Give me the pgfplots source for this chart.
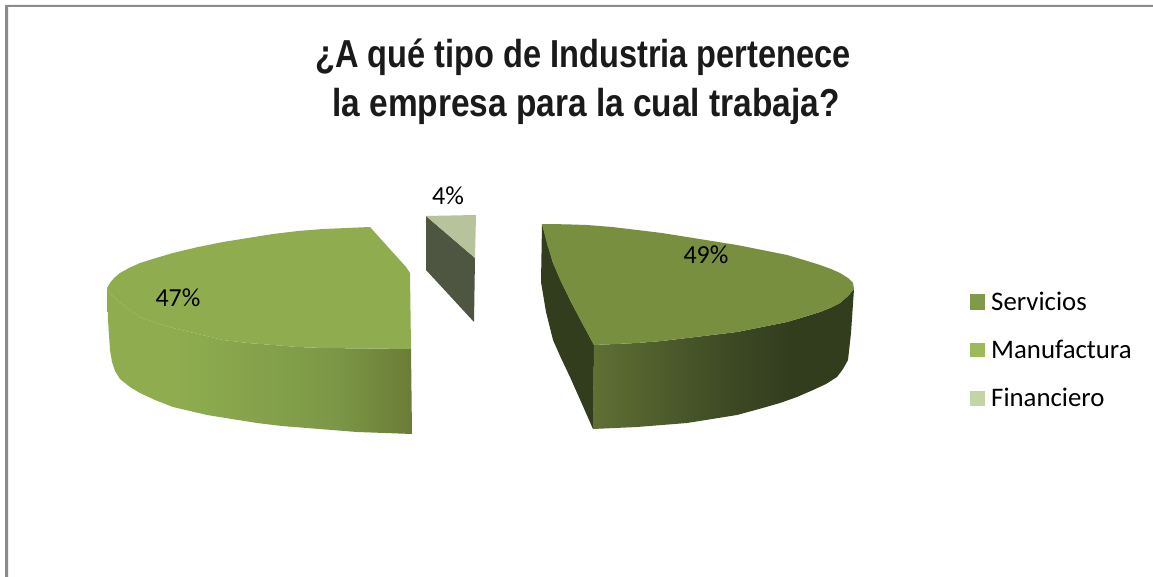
\documentclass[border=0pt]{standalone}
\usepackage{pgfplots}
\pgfplotsset{compat=1.18}
\usepackage{fontspec}
\setmainfont{Carlito}
\newfontfamily\titlef{Liberation Sans}
\definecolor{frame}{HTML}{8B8B8F}
\definecolor{ctitle}{HTML}{1A1A1A}
\definecolor{servtop}{HTML}{778F3F}
\definecolor{servleft}{HTML}{323D1E}
\definecolor{servfront}{HTML}{5F7034}
\definecolor{servmid}{HTML}{3E4B25}
\definecolor{mantop}{HTML}{8FAD4F}
\definecolor{manmid}{HTML}{7C9847}
\definecolor{manend}{HTML}{6A7D35}
\definecolor{fintop}{HTML}{B7C49B}
\definecolor{findark}{HTML}{4E5540}
\definecolor{legs}{HTML}{7F9A48}
\definecolor{legm}{HTML}{9BBB59}
\definecolor{legf}{HTML}{C3D4A5}
\pgfdeclarehorizontalshading{serside}{100bp}{color(0bp)=(servfront); color(25bp)=(servfront); color(50bp)=(servmid); color(63bp)=(servleft); color(100bp)=(servleft)}
\pgfdeclarehorizontalshading{manside}{100bp}{color(0bp)=(mantop); color(36bp)=(mantop); color(62bp)=(manmid); color(75bp)=(manend); color(100bp)=(manend)}
\begin{document}
\begin{tikzpicture}
\begin{axis}[
  scale only axis, width=1153pt, height=577pt,
  xmin=0, xmax=1153, ymin=0, ymax=577, y dir=reverse,
  axis lines=none, clip=false, no markers,
]
% page extent (invisible)
\addplot[draw=none, fill=white] coordinates {(0,0) (1153,0) (1153,577) (0,577)} -- cycle;
% frame
\addplot[draw=none, fill=frame] coordinates {(5,5) (1153,5) (1153,7) (8,7) (8,577) (5,577)} -- cycle;
% Manufactura side
\addplot[draw=none, shading=manside] coordinates {
 (107,288) (108,320) (110,350) (112,362) (115,371) (120,379) (130,387) (140,393) (155,400) (173,407) (190,411) (207,415) (232,419) (257,423) (282,426) (307,428) (332,430) (357,432) (385,433) (412,434)
 (411,349) (367,348.5) (323,348) (298,347) (273,345) (248,343) (223,340) (198,334) (173,328) (156,323) (140,317) (130,310) (120,303) (112,295)} -- cycle;
% Manufactura top
\addplot[draw=none, fill=mantop] coordinates {
 (370,227) (347,228) (323,229) (298,231) (273,234) (248,238) (223,242) (198,247) (173,253) (156,258) (140,263) (129,268) (120,273) (114,278) (110,283) (107,288)
 (112,295) (120,303) (130,310) (140,317) (156,323) (173,328) (198,334) (223,340) (248,343) (273,345) (298,347) (323,348) (367,348.5) (411,349) (410,273) (406,267)} -- cycle;
% Financiero
\addplot[draw=none, fill=findark] coordinates {(426,216) (475,258) (474,322) (426,270)} -- cycle;
\addplot[draw=none, fill=fintop] coordinates {(426,216) (476,215) (475,258)} -- cycle;
% Servicios left inner side
\addplot[draw=none, fill=servleft] coordinates {(542,224) (541,282) (546,312) (553,340) (561,358) (570,377) (582,404) (593,429) (594,345) (570,300) (553,263)} -- cycle;
% Servicios front side
\addplot[draw=none, shading=serside] coordinates {
 (594,345) (637,343) (662,341) (687,338) (712,335) (737,332) (762,327) (787,322) (804,317) (820,312) (830,308) (840,303) (848,296) (854,289)
 (851,333) (848,360) (843,369) (837,377) (826,384) (813,390) (797,397) (780,403) (759,409) (737,415) (712,419) (687,423) (662,425) (637,427) (615,428) (593,429)} -- cycle;
% Servicios top
\addplot[draw=none, fill=servtop] coordinates {
 (542,224) (565,224.3) (587,225) (612,227) (637,230) (662,233) (687,237) (712,241) (737,245) (762,250) (787,255) (804,260) (820,265) (831,269) (840,273) (848,278) (853,283) (854,289)
 (848,296) (840,303) (830,308) (820,312) (804,317) (787,322) (762,327) (737,332) (712,335) (687,338) (662,341) (637,343) (594,345) (582,323) (570,300) (561,282) (553,263) (547,244)} -- cycle;
% legend swatches
\addplot[draw=none, fill=legs] coordinates {(970,294) (985,294) (985,310) (970,310)} -- cycle;
\addplot[draw=none, fill=legm] coordinates {(970,343) (985,343) (985,357) (970,357)} -- cycle;
\addplot[draw=none, fill=legf] coordinates {(970,391) (985,391) (985,406) (970,406)} -- cycle;
% texts
\node[anchor=base, inner sep=0pt, xscale=0.835, text=ctitle] at (axis cs:583,68) {\titlef\bfseries\fontsize{39}{44}\selectfont ¿A qué tipo de Industria pertenece};
\node[anchor=base, inner sep=0pt, xscale=0.857, text=ctitle] at (axis cs:586,117) {\titlef\bfseries\fontsize{39}{44}\selectfont la empresa para la cual trabaja?};
\node[inner sep=0pt] at (axis cs:706,255) {\fontsize{26}{30}\selectfont 49\%};
\node[inner sep=0pt] at (axis cs:178,298) {\fontsize{26}{30}\selectfont 47\%};
\node[inner sep=0pt] at (axis cs:448,196) {\fontsize{26}{30}\selectfont 4\%};
\node[anchor=base west, inner sep=0pt] at (axis cs:991,310) {\fontsize{26.8}{30}\selectfont Servicios};
\node[anchor=base west, inner sep=0pt] at (axis cs:991,358) {\fontsize{26.8}{30}\selectfont Manufactura};
\node[anchor=base west, inner sep=0pt] at (axis cs:991,406) {\fontsize{26.8}{30}\selectfont Financiero};
\end{axis}
\end{tikzpicture}
\end{document}
